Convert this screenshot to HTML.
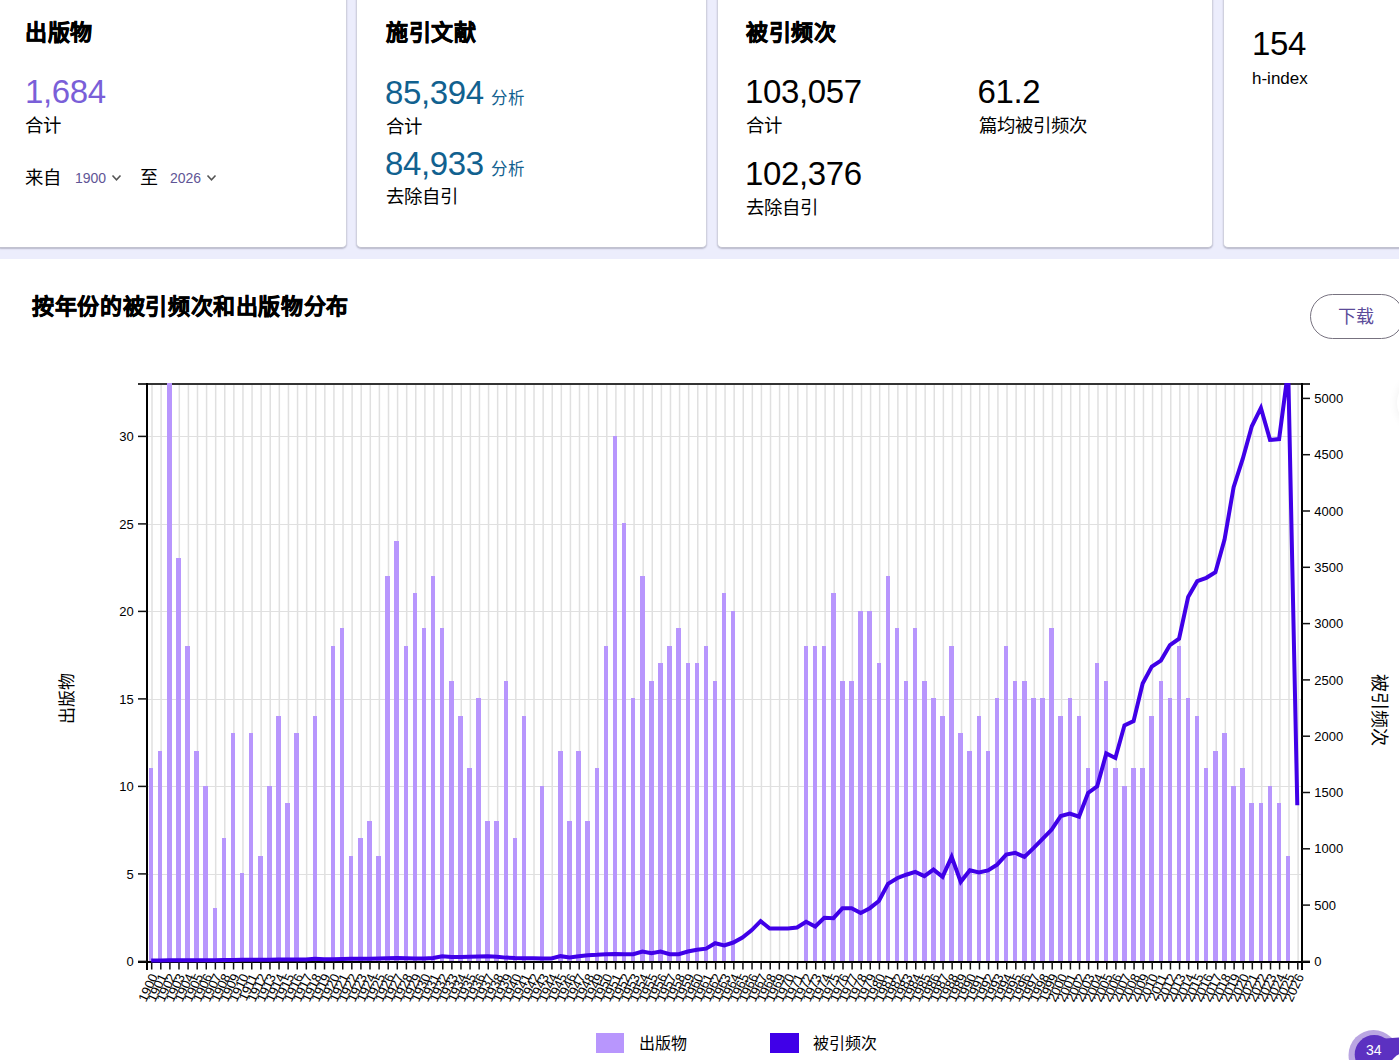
<!DOCTYPE html>
<html lang="zh-CN"><head><meta charset="utf-8">
<style>
*{box-sizing:border-box;margin:0;padding:0}
html,body{width:1399px;height:1060px;overflow:hidden;background:#fff;font-family:"Liberation Sans",sans-serif;color:#000}
.band{position:absolute;left:0;top:0;width:1399px;height:259px;background:#ecedfc}
.card{position:absolute;top:-20px;height:267.5px;background:#fff;border:1px solid #d0d1de;border-bottom-color:#c2c2d0;border-radius:5px;box-shadow:0 1px 1.5px rgba(50,50,80,.28)}
.h{position:absolute;font-size:22px;letter-spacing:0.65px;-webkit-text-stroke:0.55px #000;font-weight:bold;line-height:1;white-space:nowrap}
.num{position:absolute;font-size:33px;letter-spacing:-0.35px;line-height:1;white-space:nowrap}
.lbl{position:absolute;font-size:18.4px;line-height:1;white-space:nowrap}
.small{font-size:16px}
.abs{position:absolute;white-space:nowrap;line-height:1}
svg{position:absolute;left:0;top:0}
svg.chev{position:absolute}
.tk{font-size:13px;fill:#000;font-family:"Liberation Sans",sans-serif}
.tx{font-size:13px;fill:#000;font-family:"Liberation Sans",sans-serif}
</style></head><body>
<div class="band"></div>
<div class="card" style="left:-4px;width:350.5px"></div>
<div class="card" style="left:356px;width:350.5px"></div>
<div class="card" style="left:716.5px;width:496px"></div>
<div class="card" style="left:1223px;width:250px"></div>

<div class="h" style="left:25px;top:21.5px">出版物</div>
<div class="num" style="left:25px;top:75px;color:#7a5fd8">1,684</div>
<div class="lbl" style="left:25px;top:117px">合计</div>
<div class="lbl" style="left:25px;top:169px">来自</div>
<div class="abs" style="left:75px;top:171px;font-size:14px;color:#5f5596">1900</div>
<svg class="chev" style="left:111px;top:174px" width="11" height="8" viewBox="0 0 11 8"><path d="M1.5 1.5 L5.5 5.8 L9.5 1.5" fill="none" stroke="#555" stroke-width="1.6"/></svg>
<div class="abs" style="left:140px;top:169px;font-size:18px">至</div>
<div class="abs" style="left:170px;top:171px;font-size:14px;color:#5f5596">2026</div>
<svg class="chev" style="left:206px;top:174px" width="11" height="8" viewBox="0 0 11 8"><path d="M1.5 1.5 L5.5 5.8 L9.5 1.5" fill="none" stroke="#555" stroke-width="1.6"/></svg>

<div class="h" style="left:386px;top:21.5px">施引文献</div>
<div class="num" style="left:385px;top:75.5px;color:#11618f">85,394</div>
<div class="abs" style="left:490.5px;top:89.5px;font-size:16.5px;color:#11618f">分析</div>
<div class="lbl" style="left:386px;top:117.5px">合计</div>
<div class="num" style="left:385px;top:146.5px;color:#11618f">84,933</div>
<div class="abs" style="left:490.5px;top:160.5px;font-size:16.5px;color:#11618f">分析</div>
<div class="lbl" style="left:386px;top:188px">去除自引</div>

<div class="h" style="left:746px;top:21.5px">被引频次</div>
<div class="num" style="left:745px;top:75px">103,057</div>
<div class="lbl" style="left:746px;top:117px">合计</div>
<div class="num" style="left:745px;top:157.2px">102,376</div>
<div class="lbl" style="left:746px;top:199px">去除自引</div>
<div class="num" style="left:977.5px;top:75px">61.2</div>
<div class="lbl" style="left:979px;top:117px">篇均被引频次</div>

<div class="num" style="left:1252px;top:27.2px">154</div>
<div class="abs" style="left:1252px;top:69.5px;font-size:17px">h-index</div>

<div class="abs" style="left:1396.5px;top:375px;width:56px;height:56px;border-radius:50%;background:#fff;box-shadow:0 0 10px rgba(0,0,0,.07)"></div>
<div class="h" style="left:32px;top:296px">按年份的被引频次和出版物分布</div>
<div class="abs" style="left:1310px;top:294px;width:94px;height:45px;border:1.3px solid #77727f;border-radius:23px;"></div>
<div class="abs" style="left:1338px;top:308px;font-size:18px;color:#5b4b99">下载</div>

<svg width="1399" height="1060" viewBox="0 0 1399 1060">
<defs><clipPath id="pc"><rect x="147.0" y="383" width="1155.0" height="581.9"/></clipPath></defs>
<line x1="152.00" y1="385" x2="152.00" y2="961" stroke="#e0e0e0" stroke-width="1.5"/>
<line x1="161.10" y1="385" x2="161.10" y2="961" stroke="#e0e0e0" stroke-width="1.5"/>
<line x1="170.19" y1="385" x2="170.19" y2="961" stroke="#e0e0e0" stroke-width="1.5"/>
<line x1="179.29" y1="385" x2="179.29" y2="961" stroke="#e0e0e0" stroke-width="1.5"/>
<line x1="188.38" y1="385" x2="188.38" y2="961" stroke="#e0e0e0" stroke-width="1.5"/>
<line x1="197.48" y1="385" x2="197.48" y2="961" stroke="#e0e0e0" stroke-width="1.5"/>
<line x1="206.58" y1="385" x2="206.58" y2="961" stroke="#e0e0e0" stroke-width="1.5"/>
<line x1="215.67" y1="385" x2="215.67" y2="961" stroke="#e0e0e0" stroke-width="1.5"/>
<line x1="224.77" y1="385" x2="224.77" y2="961" stroke="#e0e0e0" stroke-width="1.5"/>
<line x1="233.86" y1="385" x2="233.86" y2="961" stroke="#e0e0e0" stroke-width="1.5"/>
<line x1="242.96" y1="385" x2="242.96" y2="961" stroke="#e0e0e0" stroke-width="1.5"/>
<line x1="252.06" y1="385" x2="252.06" y2="961" stroke="#e0e0e0" stroke-width="1.5"/>
<line x1="261.15" y1="385" x2="261.15" y2="961" stroke="#e0e0e0" stroke-width="1.5"/>
<line x1="270.25" y1="385" x2="270.25" y2="961" stroke="#e0e0e0" stroke-width="1.5"/>
<line x1="279.34" y1="385" x2="279.34" y2="961" stroke="#e0e0e0" stroke-width="1.5"/>
<line x1="288.44" y1="385" x2="288.44" y2="961" stroke="#e0e0e0" stroke-width="1.5"/>
<line x1="297.54" y1="385" x2="297.54" y2="961" stroke="#e0e0e0" stroke-width="1.5"/>
<line x1="306.63" y1="385" x2="306.63" y2="961" stroke="#e0e0e0" stroke-width="1.5"/>
<line x1="315.73" y1="385" x2="315.73" y2="961" stroke="#e0e0e0" stroke-width="1.5"/>
<line x1="324.82" y1="385" x2="324.82" y2="961" stroke="#e0e0e0" stroke-width="1.5"/>
<line x1="333.92" y1="385" x2="333.92" y2="961" stroke="#e0e0e0" stroke-width="1.5"/>
<line x1="343.02" y1="385" x2="343.02" y2="961" stroke="#e0e0e0" stroke-width="1.5"/>
<line x1="352.11" y1="385" x2="352.11" y2="961" stroke="#e0e0e0" stroke-width="1.5"/>
<line x1="361.21" y1="385" x2="361.21" y2="961" stroke="#e0e0e0" stroke-width="1.5"/>
<line x1="370.30" y1="385" x2="370.30" y2="961" stroke="#e0e0e0" stroke-width="1.5"/>
<line x1="379.40" y1="385" x2="379.40" y2="961" stroke="#e0e0e0" stroke-width="1.5"/>
<line x1="388.50" y1="385" x2="388.50" y2="961" stroke="#e0e0e0" stroke-width="1.5"/>
<line x1="397.59" y1="385" x2="397.59" y2="961" stroke="#e0e0e0" stroke-width="1.5"/>
<line x1="406.69" y1="385" x2="406.69" y2="961" stroke="#e0e0e0" stroke-width="1.5"/>
<line x1="415.78" y1="385" x2="415.78" y2="961" stroke="#e0e0e0" stroke-width="1.5"/>
<line x1="424.88" y1="385" x2="424.88" y2="961" stroke="#e0e0e0" stroke-width="1.5"/>
<line x1="433.98" y1="385" x2="433.98" y2="961" stroke="#e0e0e0" stroke-width="1.5"/>
<line x1="443.07" y1="385" x2="443.07" y2="961" stroke="#e0e0e0" stroke-width="1.5"/>
<line x1="452.17" y1="385" x2="452.17" y2="961" stroke="#e0e0e0" stroke-width="1.5"/>
<line x1="461.26" y1="385" x2="461.26" y2="961" stroke="#e0e0e0" stroke-width="1.5"/>
<line x1="470.36" y1="385" x2="470.36" y2="961" stroke="#e0e0e0" stroke-width="1.5"/>
<line x1="479.46" y1="385" x2="479.46" y2="961" stroke="#e0e0e0" stroke-width="1.5"/>
<line x1="488.55" y1="385" x2="488.55" y2="961" stroke="#e0e0e0" stroke-width="1.5"/>
<line x1="497.65" y1="385" x2="497.65" y2="961" stroke="#e0e0e0" stroke-width="1.5"/>
<line x1="506.74" y1="385" x2="506.74" y2="961" stroke="#e0e0e0" stroke-width="1.5"/>
<line x1="515.84" y1="385" x2="515.84" y2="961" stroke="#e0e0e0" stroke-width="1.5"/>
<line x1="524.94" y1="385" x2="524.94" y2="961" stroke="#e0e0e0" stroke-width="1.5"/>
<line x1="534.03" y1="385" x2="534.03" y2="961" stroke="#e0e0e0" stroke-width="1.5"/>
<line x1="543.13" y1="385" x2="543.13" y2="961" stroke="#e0e0e0" stroke-width="1.5"/>
<line x1="552.22" y1="385" x2="552.22" y2="961" stroke="#e0e0e0" stroke-width="1.5"/>
<line x1="561.32" y1="385" x2="561.32" y2="961" stroke="#e0e0e0" stroke-width="1.5"/>
<line x1="570.42" y1="385" x2="570.42" y2="961" stroke="#e0e0e0" stroke-width="1.5"/>
<line x1="579.51" y1="385" x2="579.51" y2="961" stroke="#e0e0e0" stroke-width="1.5"/>
<line x1="588.61" y1="385" x2="588.61" y2="961" stroke="#e0e0e0" stroke-width="1.5"/>
<line x1="597.70" y1="385" x2="597.70" y2="961" stroke="#e0e0e0" stroke-width="1.5"/>
<line x1="606.80" y1="385" x2="606.80" y2="961" stroke="#e0e0e0" stroke-width="1.5"/>
<line x1="615.90" y1="385" x2="615.90" y2="961" stroke="#e0e0e0" stroke-width="1.5"/>
<line x1="624.99" y1="385" x2="624.99" y2="961" stroke="#e0e0e0" stroke-width="1.5"/>
<line x1="634.09" y1="385" x2="634.09" y2="961" stroke="#e0e0e0" stroke-width="1.5"/>
<line x1="643.18" y1="385" x2="643.18" y2="961" stroke="#e0e0e0" stroke-width="1.5"/>
<line x1="652.28" y1="385" x2="652.28" y2="961" stroke="#e0e0e0" stroke-width="1.5"/>
<line x1="661.38" y1="385" x2="661.38" y2="961" stroke="#e0e0e0" stroke-width="1.5"/>
<line x1="670.47" y1="385" x2="670.47" y2="961" stroke="#e0e0e0" stroke-width="1.5"/>
<line x1="679.57" y1="385" x2="679.57" y2="961" stroke="#e0e0e0" stroke-width="1.5"/>
<line x1="688.66" y1="385" x2="688.66" y2="961" stroke="#e0e0e0" stroke-width="1.5"/>
<line x1="697.76" y1="385" x2="697.76" y2="961" stroke="#e0e0e0" stroke-width="1.5"/>
<line x1="706.86" y1="385" x2="706.86" y2="961" stroke="#e0e0e0" stroke-width="1.5"/>
<line x1="715.95" y1="385" x2="715.95" y2="961" stroke="#e0e0e0" stroke-width="1.5"/>
<line x1="725.05" y1="385" x2="725.05" y2="961" stroke="#e0e0e0" stroke-width="1.5"/>
<line x1="734.14" y1="385" x2="734.14" y2="961" stroke="#e0e0e0" stroke-width="1.5"/>
<line x1="743.24" y1="385" x2="743.24" y2="961" stroke="#e0e0e0" stroke-width="1.5"/>
<line x1="752.34" y1="385" x2="752.34" y2="961" stroke="#e0e0e0" stroke-width="1.5"/>
<line x1="761.43" y1="385" x2="761.43" y2="961" stroke="#e0e0e0" stroke-width="1.5"/>
<line x1="770.53" y1="385" x2="770.53" y2="961" stroke="#e0e0e0" stroke-width="1.5"/>
<line x1="779.62" y1="385" x2="779.62" y2="961" stroke="#e0e0e0" stroke-width="1.5"/>
<line x1="788.72" y1="385" x2="788.72" y2="961" stroke="#e0e0e0" stroke-width="1.5"/>
<line x1="797.82" y1="385" x2="797.82" y2="961" stroke="#e0e0e0" stroke-width="1.5"/>
<line x1="806.91" y1="385" x2="806.91" y2="961" stroke="#e0e0e0" stroke-width="1.5"/>
<line x1="816.01" y1="385" x2="816.01" y2="961" stroke="#e0e0e0" stroke-width="1.5"/>
<line x1="825.10" y1="385" x2="825.10" y2="961" stroke="#e0e0e0" stroke-width="1.5"/>
<line x1="834.20" y1="385" x2="834.20" y2="961" stroke="#e0e0e0" stroke-width="1.5"/>
<line x1="843.30" y1="385" x2="843.30" y2="961" stroke="#e0e0e0" stroke-width="1.5"/>
<line x1="852.39" y1="385" x2="852.39" y2="961" stroke="#e0e0e0" stroke-width="1.5"/>
<line x1="861.49" y1="385" x2="861.49" y2="961" stroke="#e0e0e0" stroke-width="1.5"/>
<line x1="870.58" y1="385" x2="870.58" y2="961" stroke="#e0e0e0" stroke-width="1.5"/>
<line x1="879.68" y1="385" x2="879.68" y2="961" stroke="#e0e0e0" stroke-width="1.5"/>
<line x1="888.78" y1="385" x2="888.78" y2="961" stroke="#e0e0e0" stroke-width="1.5"/>
<line x1="897.87" y1="385" x2="897.87" y2="961" stroke="#e0e0e0" stroke-width="1.5"/>
<line x1="906.97" y1="385" x2="906.97" y2="961" stroke="#e0e0e0" stroke-width="1.5"/>
<line x1="916.06" y1="385" x2="916.06" y2="961" stroke="#e0e0e0" stroke-width="1.5"/>
<line x1="925.16" y1="385" x2="925.16" y2="961" stroke="#e0e0e0" stroke-width="1.5"/>
<line x1="934.26" y1="385" x2="934.26" y2="961" stroke="#e0e0e0" stroke-width="1.5"/>
<line x1="943.35" y1="385" x2="943.35" y2="961" stroke="#e0e0e0" stroke-width="1.5"/>
<line x1="952.45" y1="385" x2="952.45" y2="961" stroke="#e0e0e0" stroke-width="1.5"/>
<line x1="961.54" y1="385" x2="961.54" y2="961" stroke="#e0e0e0" stroke-width="1.5"/>
<line x1="970.64" y1="385" x2="970.64" y2="961" stroke="#e0e0e0" stroke-width="1.5"/>
<line x1="979.74" y1="385" x2="979.74" y2="961" stroke="#e0e0e0" stroke-width="1.5"/>
<line x1="988.83" y1="385" x2="988.83" y2="961" stroke="#e0e0e0" stroke-width="1.5"/>
<line x1="997.93" y1="385" x2="997.93" y2="961" stroke="#e0e0e0" stroke-width="1.5"/>
<line x1="1007.02" y1="385" x2="1007.02" y2="961" stroke="#e0e0e0" stroke-width="1.5"/>
<line x1="1016.12" y1="385" x2="1016.12" y2="961" stroke="#e0e0e0" stroke-width="1.5"/>
<line x1="1025.22" y1="385" x2="1025.22" y2="961" stroke="#e0e0e0" stroke-width="1.5"/>
<line x1="1034.31" y1="385" x2="1034.31" y2="961" stroke="#e0e0e0" stroke-width="1.5"/>
<line x1="1043.41" y1="385" x2="1043.41" y2="961" stroke="#e0e0e0" stroke-width="1.5"/>
<line x1="1052.50" y1="385" x2="1052.50" y2="961" stroke="#e0e0e0" stroke-width="1.5"/>
<line x1="1061.60" y1="385" x2="1061.60" y2="961" stroke="#e0e0e0" stroke-width="1.5"/>
<line x1="1070.70" y1="385" x2="1070.70" y2="961" stroke="#e0e0e0" stroke-width="1.5"/>
<line x1="1079.79" y1="385" x2="1079.79" y2="961" stroke="#e0e0e0" stroke-width="1.5"/>
<line x1="1088.89" y1="385" x2="1088.89" y2="961" stroke="#e0e0e0" stroke-width="1.5"/>
<line x1="1097.98" y1="385" x2="1097.98" y2="961" stroke="#e0e0e0" stroke-width="1.5"/>
<line x1="1107.08" y1="385" x2="1107.08" y2="961" stroke="#e0e0e0" stroke-width="1.5"/>
<line x1="1116.18" y1="385" x2="1116.18" y2="961" stroke="#e0e0e0" stroke-width="1.5"/>
<line x1="1125.27" y1="385" x2="1125.27" y2="961" stroke="#e0e0e0" stroke-width="1.5"/>
<line x1="1134.37" y1="385" x2="1134.37" y2="961" stroke="#e0e0e0" stroke-width="1.5"/>
<line x1="1143.46" y1="385" x2="1143.46" y2="961" stroke="#e0e0e0" stroke-width="1.5"/>
<line x1="1152.56" y1="385" x2="1152.56" y2="961" stroke="#e0e0e0" stroke-width="1.5"/>
<line x1="1161.66" y1="385" x2="1161.66" y2="961" stroke="#e0e0e0" stroke-width="1.5"/>
<line x1="1170.75" y1="385" x2="1170.75" y2="961" stroke="#e0e0e0" stroke-width="1.5"/>
<line x1="1179.85" y1="385" x2="1179.85" y2="961" stroke="#e0e0e0" stroke-width="1.5"/>
<line x1="1188.94" y1="385" x2="1188.94" y2="961" stroke="#e0e0e0" stroke-width="1.5"/>
<line x1="1198.04" y1="385" x2="1198.04" y2="961" stroke="#e0e0e0" stroke-width="1.5"/>
<line x1="1207.14" y1="385" x2="1207.14" y2="961" stroke="#e0e0e0" stroke-width="1.5"/>
<line x1="1216.23" y1="385" x2="1216.23" y2="961" stroke="#e0e0e0" stroke-width="1.5"/>
<line x1="1225.33" y1="385" x2="1225.33" y2="961" stroke="#e0e0e0" stroke-width="1.5"/>
<line x1="1234.42" y1="385" x2="1234.42" y2="961" stroke="#e0e0e0" stroke-width="1.5"/>
<line x1="1243.52" y1="385" x2="1243.52" y2="961" stroke="#e0e0e0" stroke-width="1.5"/>
<line x1="1252.62" y1="385" x2="1252.62" y2="961" stroke="#e0e0e0" stroke-width="1.5"/>
<line x1="1261.71" y1="385" x2="1261.71" y2="961" stroke="#e0e0e0" stroke-width="1.5"/>
<line x1="1270.81" y1="385" x2="1270.81" y2="961" stroke="#e0e0e0" stroke-width="1.5"/>
<line x1="1279.90" y1="385" x2="1279.90" y2="961" stroke="#e0e0e0" stroke-width="1.5"/>
<line x1="1289.00" y1="385" x2="1289.00" y2="961" stroke="#e0e0e0" stroke-width="1.5"/>
<line x1="1298.10" y1="385" x2="1298.10" y2="961" stroke="#e0e0e0" stroke-width="1.5"/>
<line x1="148" y1="874.5" x2="1301" y2="874.5" stroke="#e0e0e0" stroke-width="1"/>
<line x1="148" y1="786.5" x2="1301" y2="786.5" stroke="#e0e0e0" stroke-width="1"/>
<line x1="148" y1="699.5" x2="1301" y2="699.5" stroke="#e0e0e0" stroke-width="1"/>
<line x1="148" y1="611.5" x2="1301" y2="611.5" stroke="#e0e0e0" stroke-width="1"/>
<line x1="148" y1="524.5" x2="1301" y2="524.5" stroke="#e0e0e0" stroke-width="1"/>
<line x1="148" y1="436.5" x2="1301" y2="436.5" stroke="#e0e0e0" stroke-width="1"/>
<rect x="138" y="383" width="1172" height="2" fill="#333" shape-rendering="crispEdges"/>
<rect x="146" y="383" width="2" height="587" fill="#000" shape-rendering="crispEdges"/>
<rect x="1301" y="383" width="2" height="587" fill="#000" shape-rendering="crispEdges"/>
<rect x="138" y="961" width="1172" height="2" fill="#000" shape-rendering="crispEdges"/>
<g fill="#b896fd" shape-rendering="crispEdges"><rect x="149" y="768" width="4" height="193"/><rect x="158" y="751" width="4" height="210"/><rect x="167" y="383" width="5" height="578"/><rect x="176" y="558" width="5" height="403"/><rect x="185" y="646" width="5" height="315"/><rect x="194" y="751" width="5" height="210"/><rect x="203" y="786" width="5" height="175"/><rect x="213" y="908" width="4" height="53"/><rect x="222" y="838" width="4" height="123"/><rect x="231" y="733" width="4" height="228"/><rect x="240" y="873" width="4" height="88"/><rect x="249" y="733" width="4" height="228"/><rect x="258" y="856" width="5" height="105"/><rect x="267" y="786" width="5" height="175"/><rect x="276" y="716" width="5" height="245"/><rect x="285" y="803" width="5" height="158"/><rect x="294" y="733" width="5" height="228"/><rect x="313" y="716" width="4" height="245"/><rect x="331" y="646" width="4" height="315"/><rect x="340" y="628" width="4" height="333"/><rect x="349" y="856" width="4" height="105"/><rect x="358" y="838" width="5" height="123"/><rect x="367" y="821" width="5" height="140"/><rect x="376" y="856" width="5" height="105"/><rect x="385" y="576" width="5" height="385"/><rect x="394" y="541" width="5" height="420"/><rect x="404" y="646" width="4" height="315"/><rect x="413" y="593" width="4" height="368"/><rect x="422" y="628" width="4" height="333"/><rect x="431" y="576" width="4" height="385"/><rect x="440" y="628" width="4" height="333"/><rect x="449" y="681" width="5" height="280"/><rect x="458" y="716" width="5" height="245"/><rect x="467" y="768" width="5" height="193"/><rect x="476" y="698" width="5" height="263"/><rect x="485" y="821" width="5" height="140"/><rect x="494" y="821" width="5" height="140"/><rect x="504" y="681" width="4" height="280"/><rect x="513" y="838" width="4" height="123"/><rect x="522" y="716" width="4" height="245"/><rect x="540" y="786" width="4" height="175"/><rect x="558" y="751" width="5" height="210"/><rect x="567" y="821" width="5" height="140"/><rect x="576" y="751" width="5" height="210"/><rect x="585" y="821" width="5" height="140"/><rect x="595" y="768" width="4" height="193"/><rect x="604" y="646" width="4" height="315"/><rect x="613" y="436" width="4" height="525"/><rect x="622" y="523" width="4" height="438"/><rect x="631" y="698" width="4" height="263"/><rect x="640" y="576" width="5" height="385"/><rect x="649" y="681" width="5" height="280"/><rect x="658" y="663" width="5" height="298"/><rect x="667" y="646" width="5" height="315"/><rect x="676" y="628" width="5" height="333"/><rect x="686" y="663" width="4" height="298"/><rect x="695" y="663" width="4" height="298"/><rect x="704" y="646" width="4" height="315"/><rect x="713" y="681" width="4" height="280"/><rect x="722" y="593" width="4" height="368"/><rect x="731" y="611" width="4" height="350"/><rect x="804" y="646" width="4" height="315"/><rect x="813" y="646" width="4" height="315"/><rect x="822" y="646" width="4" height="315"/><rect x="831" y="593" width="5" height="368"/><rect x="840" y="681" width="5" height="280"/><rect x="849" y="681" width="5" height="280"/><rect x="858" y="611" width="5" height="350"/><rect x="867" y="611" width="5" height="350"/><rect x="877" y="663" width="4" height="298"/><rect x="886" y="576" width="4" height="385"/><rect x="895" y="628" width="4" height="333"/><rect x="904" y="681" width="4" height="280"/><rect x="913" y="628" width="4" height="333"/><rect x="922" y="681" width="5" height="280"/><rect x="931" y="698" width="5" height="263"/><rect x="940" y="716" width="5" height="245"/><rect x="949" y="646" width="5" height="315"/><rect x="958" y="733" width="5" height="228"/><rect x="967" y="751" width="5" height="210"/><rect x="977" y="716" width="4" height="245"/><rect x="986" y="751" width="4" height="210"/><rect x="995" y="698" width="4" height="263"/><rect x="1004" y="646" width="4" height="315"/><rect x="1013" y="681" width="4" height="280"/><rect x="1022" y="681" width="5" height="280"/><rect x="1031" y="698" width="5" height="263"/><rect x="1040" y="698" width="5" height="263"/><rect x="1049" y="628" width="5" height="333"/><rect x="1058" y="716" width="5" height="245"/><rect x="1068" y="698" width="4" height="263"/><rect x="1077" y="716" width="4" height="245"/><rect x="1086" y="768" width="4" height="193"/><rect x="1095" y="663" width="4" height="298"/><rect x="1104" y="681" width="4" height="280"/><rect x="1113" y="768" width="5" height="193"/><rect x="1122" y="786" width="5" height="175"/><rect x="1131" y="768" width="5" height="193"/><rect x="1140" y="768" width="5" height="193"/><rect x="1149" y="716" width="5" height="245"/><rect x="1159" y="681" width="4" height="280"/><rect x="1168" y="698" width="4" height="263"/><rect x="1177" y="646" width="4" height="315"/><rect x="1186" y="698" width="4" height="263"/><rect x="1195" y="716" width="4" height="245"/><rect x="1204" y="768" width="4" height="193"/><rect x="1213" y="751" width="5" height="210"/><rect x="1222" y="733" width="5" height="228"/><rect x="1231" y="786" width="5" height="175"/><rect x="1240" y="768" width="5" height="193"/><rect x="1249" y="803" width="5" height="158"/><rect x="1259" y="803" width="4" height="158"/><rect x="1268" y="786" width="4" height="175"/><rect x="1277" y="803" width="4" height="158"/><rect x="1286" y="856" width="4" height="105"/></g>
<line x1="138" y1="961.40" x2="147.0" y2="961.40" stroke="#111" stroke-width="1.5"/>
<text x="133.8" y="966.05" text-anchor="end" class="tk">0</text>
<line x1="138" y1="873.90" x2="147.0" y2="873.90" stroke="#111" stroke-width="1.5"/>
<text x="133.8" y="878.55" text-anchor="end" class="tk">5</text>
<line x1="138" y1="786.40" x2="147.0" y2="786.40" stroke="#111" stroke-width="1.5"/>
<text x="133.8" y="791.05" text-anchor="end" class="tk">10</text>
<line x1="138" y1="698.90" x2="147.0" y2="698.90" stroke="#111" stroke-width="1.5"/>
<text x="133.8" y="703.55" text-anchor="end" class="tk">15</text>
<line x1="138" y1="611.40" x2="147.0" y2="611.40" stroke="#111" stroke-width="1.5"/>
<text x="133.8" y="616.05" text-anchor="end" class="tk">20</text>
<line x1="138" y1="523.90" x2="147.0" y2="523.90" stroke="#111" stroke-width="1.5"/>
<text x="133.8" y="528.55" text-anchor="end" class="tk">25</text>
<line x1="138" y1="436.40" x2="147.0" y2="436.40" stroke="#111" stroke-width="1.5"/>
<text x="133.8" y="441.05" text-anchor="end" class="tk">30</text>
<line x1="1302.0" y1="961.40" x2="1310" y2="961.40" stroke="#111" stroke-width="1.5"/>
<text x="1314.3" y="966.05" class="tk">0</text>
<line x1="1302.0" y1="905.10" x2="1310" y2="905.10" stroke="#111" stroke-width="1.5"/>
<text x="1314.3" y="909.75" class="tk">500</text>
<line x1="1302.0" y1="848.80" x2="1310" y2="848.80" stroke="#111" stroke-width="1.5"/>
<text x="1314.3" y="853.45" class="tk">1000</text>
<line x1="1302.0" y1="792.50" x2="1310" y2="792.50" stroke="#111" stroke-width="1.5"/>
<text x="1314.3" y="797.15" class="tk">1500</text>
<line x1="1302.0" y1="736.20" x2="1310" y2="736.20" stroke="#111" stroke-width="1.5"/>
<text x="1314.3" y="740.85" class="tk">2000</text>
<line x1="1302.0" y1="679.90" x2="1310" y2="679.90" stroke="#111" stroke-width="1.5"/>
<text x="1314.3" y="684.55" class="tk">2500</text>
<line x1="1302.0" y1="623.60" x2="1310" y2="623.60" stroke="#111" stroke-width="1.5"/>
<text x="1314.3" y="628.25" class="tk">3000</text>
<line x1="1302.0" y1="567.30" x2="1310" y2="567.30" stroke="#111" stroke-width="1.5"/>
<text x="1314.3" y="571.95" class="tk">3500</text>
<line x1="1302.0" y1="511.00" x2="1310" y2="511.00" stroke="#111" stroke-width="1.5"/>
<text x="1314.3" y="515.65" class="tk">4000</text>
<line x1="1302.0" y1="454.70" x2="1310" y2="454.70" stroke="#111" stroke-width="1.5"/>
<text x="1314.3" y="459.35" class="tk">4500</text>
<line x1="1302.0" y1="398.40" x2="1310" y2="398.40" stroke="#111" stroke-width="1.5"/>
<text x="1314.3" y="403.05" class="tk">5000</text>
<line x1="151.70" y1="962" x2="151.70" y2="969.5" stroke="#111" stroke-width="1.5"/>
<text transform="translate(158.10,976.5) rotate(-65)" text-anchor="end" class="tx">1900</text>
<line x1="160.80" y1="962" x2="160.80" y2="969.5" stroke="#111" stroke-width="1.5"/>
<text transform="translate(167.20,976.5) rotate(-65)" text-anchor="end" class="tx">1901</text>
<line x1="169.89" y1="962" x2="169.89" y2="969.5" stroke="#111" stroke-width="1.5"/>
<text transform="translate(176.29,976.5) rotate(-65)" text-anchor="end" class="tx">1902</text>
<line x1="178.99" y1="962" x2="178.99" y2="969.5" stroke="#111" stroke-width="1.5"/>
<text transform="translate(185.39,976.5) rotate(-65)" text-anchor="end" class="tx">1903</text>
<line x1="188.08" y1="962" x2="188.08" y2="969.5" stroke="#111" stroke-width="1.5"/>
<text transform="translate(194.48,976.5) rotate(-65)" text-anchor="end" class="tx">1904</text>
<line x1="197.18" y1="962" x2="197.18" y2="969.5" stroke="#111" stroke-width="1.5"/>
<text transform="translate(203.58,976.5) rotate(-65)" text-anchor="end" class="tx">1905</text>
<line x1="206.28" y1="962" x2="206.28" y2="969.5" stroke="#111" stroke-width="1.5"/>
<text transform="translate(212.68,976.5) rotate(-65)" text-anchor="end" class="tx">1906</text>
<line x1="215.37" y1="962" x2="215.37" y2="969.5" stroke="#111" stroke-width="1.5"/>
<text transform="translate(221.77,976.5) rotate(-65)" text-anchor="end" class="tx">1907</text>
<line x1="224.47" y1="962" x2="224.47" y2="969.5" stroke="#111" stroke-width="1.5"/>
<text transform="translate(230.87,976.5) rotate(-65)" text-anchor="end" class="tx">1908</text>
<line x1="233.56" y1="962" x2="233.56" y2="969.5" stroke="#111" stroke-width="1.5"/>
<text transform="translate(239.96,976.5) rotate(-65)" text-anchor="end" class="tx">1909</text>
<line x1="242.66" y1="962" x2="242.66" y2="969.5" stroke="#111" stroke-width="1.5"/>
<text transform="translate(249.06,976.5) rotate(-65)" text-anchor="end" class="tx">1910</text>
<line x1="251.76" y1="962" x2="251.76" y2="969.5" stroke="#111" stroke-width="1.5"/>
<text transform="translate(258.16,976.5) rotate(-65)" text-anchor="end" class="tx">1911</text>
<line x1="260.85" y1="962" x2="260.85" y2="969.5" stroke="#111" stroke-width="1.5"/>
<text transform="translate(267.25,976.5) rotate(-65)" text-anchor="end" class="tx">1912</text>
<line x1="269.95" y1="962" x2="269.95" y2="969.5" stroke="#111" stroke-width="1.5"/>
<text transform="translate(276.35,976.5) rotate(-65)" text-anchor="end" class="tx">1913</text>
<line x1="279.04" y1="962" x2="279.04" y2="969.5" stroke="#111" stroke-width="1.5"/>
<text transform="translate(285.44,976.5) rotate(-65)" text-anchor="end" class="tx">1914</text>
<line x1="288.14" y1="962" x2="288.14" y2="969.5" stroke="#111" stroke-width="1.5"/>
<text transform="translate(294.54,976.5) rotate(-65)" text-anchor="end" class="tx">1915</text>
<line x1="297.24" y1="962" x2="297.24" y2="969.5" stroke="#111" stroke-width="1.5"/>
<text transform="translate(303.64,976.5) rotate(-65)" text-anchor="end" class="tx">1916</text>
<line x1="306.33" y1="962" x2="306.33" y2="969.5" stroke="#111" stroke-width="1.5"/>
<text transform="translate(312.73,976.5) rotate(-65)" text-anchor="end" class="tx">1917</text>
<line x1="315.43" y1="962" x2="315.43" y2="969.5" stroke="#111" stroke-width="1.5"/>
<text transform="translate(321.83,976.5) rotate(-65)" text-anchor="end" class="tx">1918</text>
<line x1="324.52" y1="962" x2="324.52" y2="969.5" stroke="#111" stroke-width="1.5"/>
<text transform="translate(330.92,976.5) rotate(-65)" text-anchor="end" class="tx">1919</text>
<line x1="333.62" y1="962" x2="333.62" y2="969.5" stroke="#111" stroke-width="1.5"/>
<text transform="translate(340.02,976.5) rotate(-65)" text-anchor="end" class="tx">1920</text>
<line x1="342.72" y1="962" x2="342.72" y2="969.5" stroke="#111" stroke-width="1.5"/>
<text transform="translate(349.12,976.5) rotate(-65)" text-anchor="end" class="tx">1921</text>
<line x1="351.81" y1="962" x2="351.81" y2="969.5" stroke="#111" stroke-width="1.5"/>
<text transform="translate(358.21,976.5) rotate(-65)" text-anchor="end" class="tx">1922</text>
<line x1="360.91" y1="962" x2="360.91" y2="969.5" stroke="#111" stroke-width="1.5"/>
<text transform="translate(367.31,976.5) rotate(-65)" text-anchor="end" class="tx">1923</text>
<line x1="370.00" y1="962" x2="370.00" y2="969.5" stroke="#111" stroke-width="1.5"/>
<text transform="translate(376.40,976.5) rotate(-65)" text-anchor="end" class="tx">1924</text>
<line x1="379.10" y1="962" x2="379.10" y2="969.5" stroke="#111" stroke-width="1.5"/>
<text transform="translate(385.50,976.5) rotate(-65)" text-anchor="end" class="tx">1925</text>
<line x1="388.20" y1="962" x2="388.20" y2="969.5" stroke="#111" stroke-width="1.5"/>
<text transform="translate(394.60,976.5) rotate(-65)" text-anchor="end" class="tx">1926</text>
<line x1="397.29" y1="962" x2="397.29" y2="969.5" stroke="#111" stroke-width="1.5"/>
<text transform="translate(403.69,976.5) rotate(-65)" text-anchor="end" class="tx">1927</text>
<line x1="406.39" y1="962" x2="406.39" y2="969.5" stroke="#111" stroke-width="1.5"/>
<text transform="translate(412.79,976.5) rotate(-65)" text-anchor="end" class="tx">1928</text>
<line x1="415.48" y1="962" x2="415.48" y2="969.5" stroke="#111" stroke-width="1.5"/>
<text transform="translate(421.88,976.5) rotate(-65)" text-anchor="end" class="tx">1929</text>
<line x1="424.58" y1="962" x2="424.58" y2="969.5" stroke="#111" stroke-width="1.5"/>
<text transform="translate(430.98,976.5) rotate(-65)" text-anchor="end" class="tx">1930</text>
<line x1="433.68" y1="962" x2="433.68" y2="969.5" stroke="#111" stroke-width="1.5"/>
<text transform="translate(440.08,976.5) rotate(-65)" text-anchor="end" class="tx">1931</text>
<line x1="442.77" y1="962" x2="442.77" y2="969.5" stroke="#111" stroke-width="1.5"/>
<text transform="translate(449.17,976.5) rotate(-65)" text-anchor="end" class="tx">1932</text>
<line x1="451.87" y1="962" x2="451.87" y2="969.5" stroke="#111" stroke-width="1.5"/>
<text transform="translate(458.27,976.5) rotate(-65)" text-anchor="end" class="tx">1933</text>
<line x1="460.96" y1="962" x2="460.96" y2="969.5" stroke="#111" stroke-width="1.5"/>
<text transform="translate(467.36,976.5) rotate(-65)" text-anchor="end" class="tx">1934</text>
<line x1="470.06" y1="962" x2="470.06" y2="969.5" stroke="#111" stroke-width="1.5"/>
<text transform="translate(476.46,976.5) rotate(-65)" text-anchor="end" class="tx">1935</text>
<line x1="479.16" y1="962" x2="479.16" y2="969.5" stroke="#111" stroke-width="1.5"/>
<text transform="translate(485.56,976.5) rotate(-65)" text-anchor="end" class="tx">1936</text>
<line x1="488.25" y1="962" x2="488.25" y2="969.5" stroke="#111" stroke-width="1.5"/>
<text transform="translate(494.65,976.5) rotate(-65)" text-anchor="end" class="tx">1937</text>
<line x1="497.35" y1="962" x2="497.35" y2="969.5" stroke="#111" stroke-width="1.5"/>
<text transform="translate(503.75,976.5) rotate(-65)" text-anchor="end" class="tx">1938</text>
<line x1="506.44" y1="962" x2="506.44" y2="969.5" stroke="#111" stroke-width="1.5"/>
<text transform="translate(512.84,976.5) rotate(-65)" text-anchor="end" class="tx">1939</text>
<line x1="515.54" y1="962" x2="515.54" y2="969.5" stroke="#111" stroke-width="1.5"/>
<text transform="translate(521.94,976.5) rotate(-65)" text-anchor="end" class="tx">1940</text>
<line x1="524.64" y1="962" x2="524.64" y2="969.5" stroke="#111" stroke-width="1.5"/>
<text transform="translate(531.04,976.5) rotate(-65)" text-anchor="end" class="tx">1941</text>
<line x1="533.73" y1="962" x2="533.73" y2="969.5" stroke="#111" stroke-width="1.5"/>
<text transform="translate(540.13,976.5) rotate(-65)" text-anchor="end" class="tx">1942</text>
<line x1="542.83" y1="962" x2="542.83" y2="969.5" stroke="#111" stroke-width="1.5"/>
<text transform="translate(549.23,976.5) rotate(-65)" text-anchor="end" class="tx">1943</text>
<line x1="551.92" y1="962" x2="551.92" y2="969.5" stroke="#111" stroke-width="1.5"/>
<text transform="translate(558.32,976.5) rotate(-65)" text-anchor="end" class="tx">1944</text>
<line x1="561.02" y1="962" x2="561.02" y2="969.5" stroke="#111" stroke-width="1.5"/>
<text transform="translate(567.42,976.5) rotate(-65)" text-anchor="end" class="tx">1945</text>
<line x1="570.12" y1="962" x2="570.12" y2="969.5" stroke="#111" stroke-width="1.5"/>
<text transform="translate(576.52,976.5) rotate(-65)" text-anchor="end" class="tx">1946</text>
<line x1="579.21" y1="962" x2="579.21" y2="969.5" stroke="#111" stroke-width="1.5"/>
<text transform="translate(585.61,976.5) rotate(-65)" text-anchor="end" class="tx">1947</text>
<line x1="588.31" y1="962" x2="588.31" y2="969.5" stroke="#111" stroke-width="1.5"/>
<text transform="translate(594.71,976.5) rotate(-65)" text-anchor="end" class="tx">1948</text>
<line x1="597.40" y1="962" x2="597.40" y2="969.5" stroke="#111" stroke-width="1.5"/>
<text transform="translate(603.80,976.5) rotate(-65)" text-anchor="end" class="tx">1949</text>
<line x1="606.50" y1="962" x2="606.50" y2="969.5" stroke="#111" stroke-width="1.5"/>
<text transform="translate(612.90,976.5) rotate(-65)" text-anchor="end" class="tx">1950</text>
<line x1="615.60" y1="962" x2="615.60" y2="969.5" stroke="#111" stroke-width="1.5"/>
<text transform="translate(622.00,976.5) rotate(-65)" text-anchor="end" class="tx">1951</text>
<line x1="624.69" y1="962" x2="624.69" y2="969.5" stroke="#111" stroke-width="1.5"/>
<text transform="translate(631.09,976.5) rotate(-65)" text-anchor="end" class="tx">1952</text>
<line x1="633.79" y1="962" x2="633.79" y2="969.5" stroke="#111" stroke-width="1.5"/>
<text transform="translate(640.19,976.5) rotate(-65)" text-anchor="end" class="tx">1953</text>
<line x1="642.88" y1="962" x2="642.88" y2="969.5" stroke="#111" stroke-width="1.5"/>
<text transform="translate(649.28,976.5) rotate(-65)" text-anchor="end" class="tx">1954</text>
<line x1="651.98" y1="962" x2="651.98" y2="969.5" stroke="#111" stroke-width="1.5"/>
<text transform="translate(658.38,976.5) rotate(-65)" text-anchor="end" class="tx">1955</text>
<line x1="661.08" y1="962" x2="661.08" y2="969.5" stroke="#111" stroke-width="1.5"/>
<text transform="translate(667.48,976.5) rotate(-65)" text-anchor="end" class="tx">1956</text>
<line x1="670.17" y1="962" x2="670.17" y2="969.5" stroke="#111" stroke-width="1.5"/>
<text transform="translate(676.57,976.5) rotate(-65)" text-anchor="end" class="tx">1957</text>
<line x1="679.27" y1="962" x2="679.27" y2="969.5" stroke="#111" stroke-width="1.5"/>
<text transform="translate(685.67,976.5) rotate(-65)" text-anchor="end" class="tx">1958</text>
<line x1="688.36" y1="962" x2="688.36" y2="969.5" stroke="#111" stroke-width="1.5"/>
<text transform="translate(694.76,976.5) rotate(-65)" text-anchor="end" class="tx">1959</text>
<line x1="697.46" y1="962" x2="697.46" y2="969.5" stroke="#111" stroke-width="1.5"/>
<text transform="translate(703.86,976.5) rotate(-65)" text-anchor="end" class="tx">1960</text>
<line x1="706.56" y1="962" x2="706.56" y2="969.5" stroke="#111" stroke-width="1.5"/>
<text transform="translate(712.96,976.5) rotate(-65)" text-anchor="end" class="tx">1961</text>
<line x1="715.65" y1="962" x2="715.65" y2="969.5" stroke="#111" stroke-width="1.5"/>
<text transform="translate(722.05,976.5) rotate(-65)" text-anchor="end" class="tx">1962</text>
<line x1="724.75" y1="962" x2="724.75" y2="969.5" stroke="#111" stroke-width="1.5"/>
<text transform="translate(731.15,976.5) rotate(-65)" text-anchor="end" class="tx">1963</text>
<line x1="733.84" y1="962" x2="733.84" y2="969.5" stroke="#111" stroke-width="1.5"/>
<text transform="translate(740.24,976.5) rotate(-65)" text-anchor="end" class="tx">1964</text>
<line x1="742.94" y1="962" x2="742.94" y2="969.5" stroke="#111" stroke-width="1.5"/>
<text transform="translate(749.34,976.5) rotate(-65)" text-anchor="end" class="tx">1965</text>
<line x1="752.04" y1="962" x2="752.04" y2="969.5" stroke="#111" stroke-width="1.5"/>
<text transform="translate(758.44,976.5) rotate(-65)" text-anchor="end" class="tx">1966</text>
<line x1="761.13" y1="962" x2="761.13" y2="969.5" stroke="#111" stroke-width="1.5"/>
<text transform="translate(767.53,976.5) rotate(-65)" text-anchor="end" class="tx">1967</text>
<line x1="770.23" y1="962" x2="770.23" y2="969.5" stroke="#111" stroke-width="1.5"/>
<text transform="translate(776.63,976.5) rotate(-65)" text-anchor="end" class="tx">1968</text>
<line x1="779.32" y1="962" x2="779.32" y2="969.5" stroke="#111" stroke-width="1.5"/>
<text transform="translate(785.72,976.5) rotate(-65)" text-anchor="end" class="tx">1969</text>
<line x1="788.42" y1="962" x2="788.42" y2="969.5" stroke="#111" stroke-width="1.5"/>
<text transform="translate(794.82,976.5) rotate(-65)" text-anchor="end" class="tx">1970</text>
<line x1="797.52" y1="962" x2="797.52" y2="969.5" stroke="#111" stroke-width="1.5"/>
<text transform="translate(803.92,976.5) rotate(-65)" text-anchor="end" class="tx">1971</text>
<line x1="806.61" y1="962" x2="806.61" y2="969.5" stroke="#111" stroke-width="1.5"/>
<text transform="translate(813.01,976.5) rotate(-65)" text-anchor="end" class="tx">1972</text>
<line x1="815.71" y1="962" x2="815.71" y2="969.5" stroke="#111" stroke-width="1.5"/>
<text transform="translate(822.11,976.5) rotate(-65)" text-anchor="end" class="tx">1973</text>
<line x1="824.80" y1="962" x2="824.80" y2="969.5" stroke="#111" stroke-width="1.5"/>
<text transform="translate(831.20,976.5) rotate(-65)" text-anchor="end" class="tx">1974</text>
<line x1="833.90" y1="962" x2="833.90" y2="969.5" stroke="#111" stroke-width="1.5"/>
<text transform="translate(840.30,976.5) rotate(-65)" text-anchor="end" class="tx">1975</text>
<line x1="843.00" y1="962" x2="843.00" y2="969.5" stroke="#111" stroke-width="1.5"/>
<text transform="translate(849.40,976.5) rotate(-65)" text-anchor="end" class="tx">1976</text>
<line x1="852.09" y1="962" x2="852.09" y2="969.5" stroke="#111" stroke-width="1.5"/>
<text transform="translate(858.49,976.5) rotate(-65)" text-anchor="end" class="tx">1977</text>
<line x1="861.19" y1="962" x2="861.19" y2="969.5" stroke="#111" stroke-width="1.5"/>
<text transform="translate(867.59,976.5) rotate(-65)" text-anchor="end" class="tx">1978</text>
<line x1="870.28" y1="962" x2="870.28" y2="969.5" stroke="#111" stroke-width="1.5"/>
<text transform="translate(876.68,976.5) rotate(-65)" text-anchor="end" class="tx">1979</text>
<line x1="879.38" y1="962" x2="879.38" y2="969.5" stroke="#111" stroke-width="1.5"/>
<text transform="translate(885.78,976.5) rotate(-65)" text-anchor="end" class="tx">1980</text>
<line x1="888.48" y1="962" x2="888.48" y2="969.5" stroke="#111" stroke-width="1.5"/>
<text transform="translate(894.88,976.5) rotate(-65)" text-anchor="end" class="tx">1981</text>
<line x1="897.57" y1="962" x2="897.57" y2="969.5" stroke="#111" stroke-width="1.5"/>
<text transform="translate(903.97,976.5) rotate(-65)" text-anchor="end" class="tx">1982</text>
<line x1="906.67" y1="962" x2="906.67" y2="969.5" stroke="#111" stroke-width="1.5"/>
<text transform="translate(913.07,976.5) rotate(-65)" text-anchor="end" class="tx">1983</text>
<line x1="915.76" y1="962" x2="915.76" y2="969.5" stroke="#111" stroke-width="1.5"/>
<text transform="translate(922.16,976.5) rotate(-65)" text-anchor="end" class="tx">1984</text>
<line x1="924.86" y1="962" x2="924.86" y2="969.5" stroke="#111" stroke-width="1.5"/>
<text transform="translate(931.26,976.5) rotate(-65)" text-anchor="end" class="tx">1985</text>
<line x1="933.96" y1="962" x2="933.96" y2="969.5" stroke="#111" stroke-width="1.5"/>
<text transform="translate(940.36,976.5) rotate(-65)" text-anchor="end" class="tx">1986</text>
<line x1="943.05" y1="962" x2="943.05" y2="969.5" stroke="#111" stroke-width="1.5"/>
<text transform="translate(949.45,976.5) rotate(-65)" text-anchor="end" class="tx">1987</text>
<line x1="952.15" y1="962" x2="952.15" y2="969.5" stroke="#111" stroke-width="1.5"/>
<text transform="translate(958.55,976.5) rotate(-65)" text-anchor="end" class="tx">1988</text>
<line x1="961.24" y1="962" x2="961.24" y2="969.5" stroke="#111" stroke-width="1.5"/>
<text transform="translate(967.64,976.5) rotate(-65)" text-anchor="end" class="tx">1989</text>
<line x1="970.34" y1="962" x2="970.34" y2="969.5" stroke="#111" stroke-width="1.5"/>
<text transform="translate(976.74,976.5) rotate(-65)" text-anchor="end" class="tx">1990</text>
<line x1="979.44" y1="962" x2="979.44" y2="969.5" stroke="#111" stroke-width="1.5"/>
<text transform="translate(985.84,976.5) rotate(-65)" text-anchor="end" class="tx">1991</text>
<line x1="988.53" y1="962" x2="988.53" y2="969.5" stroke="#111" stroke-width="1.5"/>
<text transform="translate(994.93,976.5) rotate(-65)" text-anchor="end" class="tx">1992</text>
<line x1="997.63" y1="962" x2="997.63" y2="969.5" stroke="#111" stroke-width="1.5"/>
<text transform="translate(1004.03,976.5) rotate(-65)" text-anchor="end" class="tx">1993</text>
<line x1="1006.72" y1="962" x2="1006.72" y2="969.5" stroke="#111" stroke-width="1.5"/>
<text transform="translate(1013.12,976.5) rotate(-65)" text-anchor="end" class="tx">1994</text>
<line x1="1015.82" y1="962" x2="1015.82" y2="969.5" stroke="#111" stroke-width="1.5"/>
<text transform="translate(1022.22,976.5) rotate(-65)" text-anchor="end" class="tx">1995</text>
<line x1="1024.92" y1="962" x2="1024.92" y2="969.5" stroke="#111" stroke-width="1.5"/>
<text transform="translate(1031.32,976.5) rotate(-65)" text-anchor="end" class="tx">1996</text>
<line x1="1034.01" y1="962" x2="1034.01" y2="969.5" stroke="#111" stroke-width="1.5"/>
<text transform="translate(1040.41,976.5) rotate(-65)" text-anchor="end" class="tx">1997</text>
<line x1="1043.11" y1="962" x2="1043.11" y2="969.5" stroke="#111" stroke-width="1.5"/>
<text transform="translate(1049.51,976.5) rotate(-65)" text-anchor="end" class="tx">1998</text>
<line x1="1052.20" y1="962" x2="1052.20" y2="969.5" stroke="#111" stroke-width="1.5"/>
<text transform="translate(1058.60,976.5) rotate(-65)" text-anchor="end" class="tx">1999</text>
<line x1="1061.30" y1="962" x2="1061.30" y2="969.5" stroke="#111" stroke-width="1.5"/>
<text transform="translate(1067.70,976.5) rotate(-65)" text-anchor="end" class="tx">2000</text>
<line x1="1070.40" y1="962" x2="1070.40" y2="969.5" stroke="#111" stroke-width="1.5"/>
<text transform="translate(1076.80,976.5) rotate(-65)" text-anchor="end" class="tx">2001</text>
<line x1="1079.49" y1="962" x2="1079.49" y2="969.5" stroke="#111" stroke-width="1.5"/>
<text transform="translate(1085.89,976.5) rotate(-65)" text-anchor="end" class="tx">2002</text>
<line x1="1088.59" y1="962" x2="1088.59" y2="969.5" stroke="#111" stroke-width="1.5"/>
<text transform="translate(1094.99,976.5) rotate(-65)" text-anchor="end" class="tx">2003</text>
<line x1="1097.68" y1="962" x2="1097.68" y2="969.5" stroke="#111" stroke-width="1.5"/>
<text transform="translate(1104.08,976.5) rotate(-65)" text-anchor="end" class="tx">2004</text>
<line x1="1106.78" y1="962" x2="1106.78" y2="969.5" stroke="#111" stroke-width="1.5"/>
<text transform="translate(1113.18,976.5) rotate(-65)" text-anchor="end" class="tx">2005</text>
<line x1="1115.88" y1="962" x2="1115.88" y2="969.5" stroke="#111" stroke-width="1.5"/>
<text transform="translate(1122.28,976.5) rotate(-65)" text-anchor="end" class="tx">2006</text>
<line x1="1124.97" y1="962" x2="1124.97" y2="969.5" stroke="#111" stroke-width="1.5"/>
<text transform="translate(1131.37,976.5) rotate(-65)" text-anchor="end" class="tx">2007</text>
<line x1="1134.07" y1="962" x2="1134.07" y2="969.5" stroke="#111" stroke-width="1.5"/>
<text transform="translate(1140.47,976.5) rotate(-65)" text-anchor="end" class="tx">2008</text>
<line x1="1143.16" y1="962" x2="1143.16" y2="969.5" stroke="#111" stroke-width="1.5"/>
<text transform="translate(1149.56,976.5) rotate(-65)" text-anchor="end" class="tx">2009</text>
<line x1="1152.26" y1="962" x2="1152.26" y2="969.5" stroke="#111" stroke-width="1.5"/>
<text transform="translate(1158.66,976.5) rotate(-65)" text-anchor="end" class="tx">2010</text>
<line x1="1161.36" y1="962" x2="1161.36" y2="969.5" stroke="#111" stroke-width="1.5"/>
<text transform="translate(1167.76,976.5) rotate(-65)" text-anchor="end" class="tx">2011</text>
<line x1="1170.45" y1="962" x2="1170.45" y2="969.5" stroke="#111" stroke-width="1.5"/>
<text transform="translate(1176.85,976.5) rotate(-65)" text-anchor="end" class="tx">2012</text>
<line x1="1179.55" y1="962" x2="1179.55" y2="969.5" stroke="#111" stroke-width="1.5"/>
<text transform="translate(1185.95,976.5) rotate(-65)" text-anchor="end" class="tx">2013</text>
<line x1="1188.64" y1="962" x2="1188.64" y2="969.5" stroke="#111" stroke-width="1.5"/>
<text transform="translate(1195.04,976.5) rotate(-65)" text-anchor="end" class="tx">2014</text>
<line x1="1197.74" y1="962" x2="1197.74" y2="969.5" stroke="#111" stroke-width="1.5"/>
<text transform="translate(1204.14,976.5) rotate(-65)" text-anchor="end" class="tx">2015</text>
<line x1="1206.84" y1="962" x2="1206.84" y2="969.5" stroke="#111" stroke-width="1.5"/>
<text transform="translate(1213.24,976.5) rotate(-65)" text-anchor="end" class="tx">2016</text>
<line x1="1215.93" y1="962" x2="1215.93" y2="969.5" stroke="#111" stroke-width="1.5"/>
<text transform="translate(1222.33,976.5) rotate(-65)" text-anchor="end" class="tx">2017</text>
<line x1="1225.03" y1="962" x2="1225.03" y2="969.5" stroke="#111" stroke-width="1.5"/>
<text transform="translate(1231.43,976.5) rotate(-65)" text-anchor="end" class="tx">2018</text>
<line x1="1234.12" y1="962" x2="1234.12" y2="969.5" stroke="#111" stroke-width="1.5"/>
<text transform="translate(1240.52,976.5) rotate(-65)" text-anchor="end" class="tx">2019</text>
<line x1="1243.22" y1="962" x2="1243.22" y2="969.5" stroke="#111" stroke-width="1.5"/>
<text transform="translate(1249.62,976.5) rotate(-65)" text-anchor="end" class="tx">2020</text>
<line x1="1252.32" y1="962" x2="1252.32" y2="969.5" stroke="#111" stroke-width="1.5"/>
<text transform="translate(1258.72,976.5) rotate(-65)" text-anchor="end" class="tx">2021</text>
<line x1="1261.41" y1="962" x2="1261.41" y2="969.5" stroke="#111" stroke-width="1.5"/>
<text transform="translate(1267.81,976.5) rotate(-65)" text-anchor="end" class="tx">2022</text>
<line x1="1270.51" y1="962" x2="1270.51" y2="969.5" stroke="#111" stroke-width="1.5"/>
<text transform="translate(1276.91,976.5) rotate(-65)" text-anchor="end" class="tx">2023</text>
<line x1="1279.60" y1="962" x2="1279.60" y2="969.5" stroke="#111" stroke-width="1.5"/>
<text transform="translate(1286.00,976.5) rotate(-65)" text-anchor="end" class="tx">2024</text>
<line x1="1288.70" y1="962" x2="1288.70" y2="969.5" stroke="#111" stroke-width="1.5"/>
<text transform="translate(1295.10,976.5) rotate(-65)" text-anchor="end" class="tx">2025</text>
<line x1="1297.80" y1="962" x2="1297.80" y2="969.5" stroke="#111" stroke-width="1.5"/>
<text transform="translate(1304.20,976.5) rotate(-65)" text-anchor="end" class="tx">2026</text>
<g clip-path="url(#pc)"><polyline points="151.20,960.55 160.30,960.44 169.39,960.32 178.49,960.21 187.58,960.21 196.68,960.21 205.78,960.21 214.87,960.21 223.97,959.99 233.06,959.99 242.16,959.87 251.26,959.76 260.35,959.65 269.45,959.65 278.54,959.54 287.64,959.54 296.74,959.54 305.83,959.54 314.93,958.86 324.02,959.31 333.12,959.31 342.22,959.09 351.31,958.86 360.41,958.64 369.50,958.64 378.60,958.41 387.70,958.18 396.79,957.96 405.89,958.18 414.98,958.52 424.08,958.52 433.18,958.07 442.27,956.27 451.37,956.95 460.46,956.95 469.56,956.72 478.66,956.50 487.75,956.27 496.85,956.83 505.94,957.62 515.04,958.07 524.14,958.18 533.23,958.30 542.33,958.41 551.42,958.41 560.52,956.16 569.62,957.51 578.71,956.16 587.81,955.14 596.90,954.81 606.00,954.24 615.10,954.02 624.19,954.24 633.29,954.24 642.38,951.65 651.48,953.34 660.58,951.65 669.67,954.24 678.77,954.24 687.86,951.54 696.96,949.74 706.06,948.61 715.15,943.21 724.25,945.35 733.34,942.53 742.44,937.47 751.54,930.37 760.63,921.14 769.73,928.57 778.82,928.57 787.92,928.46 797.02,927.45 806.11,921.82 815.21,926.54 824.30,917.87 833.40,918.21 842.50,908.19 851.59,908.19 860.69,912.92 869.78,908.19 878.88,900.98 887.98,883.87 897.07,878.24 906.17,874.75 915.26,871.82 924.36,876.10 933.46,869.57 942.55,876.78 951.65,856.85 960.74,881.84 969.84,870.36 978.94,872.50 988.03,870.36 997.13,864.61 1006.22,854.59 1015.32,852.90 1024.42,856.85 1033.51,848.17 1042.61,838.94 1051.70,829.60 1060.80,815.97 1069.90,813.61 1078.99,816.76 1088.09,793.00 1097.18,786.36 1106.28,753.48 1115.38,757.98 1124.47,725.33 1133.57,721.16 1142.66,683.55 1151.76,666.55 1160.86,660.58 1169.95,645.04 1179.05,638.74 1188.14,597.08 1197.24,581.20 1206.34,577.82 1215.43,572.19 1224.53,539.65 1233.62,487.18 1242.72,458.92 1251.82,426.26 1260.91,407.91 1270.01,439.89 1279.10,439.10 1288.20,369.85 1297.30,805.27" fill="none" stroke="#4000e8" stroke-width="4" stroke-linejoin="miter" stroke-miterlimit="4"/></g>
<text transform="translate(73,698) rotate(-90)" text-anchor="middle" style="font-size:17px">出版物</text>
<text transform="translate(1373.3,709.5) rotate(90)" text-anchor="middle" style="font-size:18px">被引频次</text>
<rect x="596" y="1033" width="28" height="20" fill="#b896fd"/>
<text x="638.5" y="1049" style="font-size:16px">出版物</text>
<rect x="770" y="1033" width="29" height="20" fill="#4000e8"/>
<text x="813" y="1049" style="font-size:16px">被引频次</text>
<circle cx="1373.5" cy="1055" r="25" fill="#baa6e2"/>
<circle cx="1374.2" cy="1054.5" r="19.5" fill="#5c31c1"/>
<path d="M1378 1040 Q1386 1038 1392 1038 L1400 1037.5 L1400 1062 L1378 1062 Z" fill="#5c31c1"/>
<circle cx="1407" cy="1071" r="18.5" fill="#fff"/>
<circle cx="1409.5" cy="1073.5" r="14.5" fill="#5c31c1"/>
<text x="1366" y="1055" style="font-size:14px;fill:#fff">34</text>
</svg>
</body></html>
